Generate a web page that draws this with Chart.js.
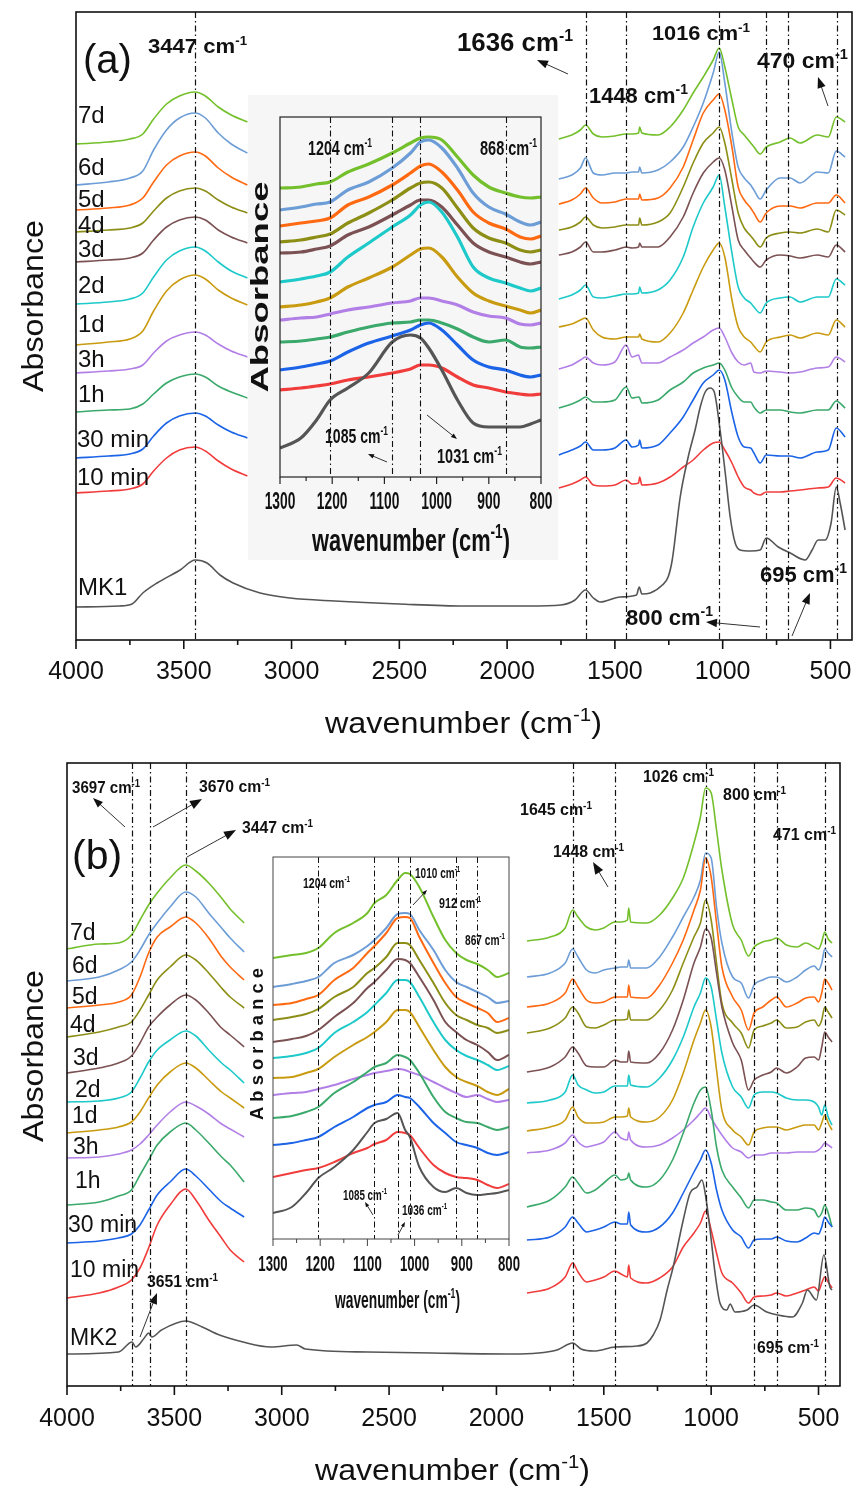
<!DOCTYPE html>
<html>
<head>
<meta charset="utf-8">
<title>FTIR spectra MK1 / MK2</title>
<script src="https://cdn.jsdelivr.net/npm/chart.js@4.4.1/dist/chart.umd.min.js"></script>
<style>
  html, body { margin: 0; padding: 0; background: #fff; }
  body { position: relative; width: 854px; height: 1486px; overflow: hidden; }
  canvas { position: absolute; }
  #mainA { left: 0; top: 0; }
  #mainB { left: 0; top: 745px; }
  #insetA { left: 248px; top: 95px; background: #f6f6f6; }
  #insetB { left: 235px; top: 845px; }
</style>
</head>
<body>
<canvas id="mainA" width="854" height="745"></canvas>
<canvas id="mainB" width="854" height="741"></canvas>
<canvas id="insetA" width="310" height="465"></canvas>
<canvas id="insetB" width="295" height="475"></canvas>
<script>
// curing times, top to bottom
const series = ['7d', '6d', '5d', '4d', '3d', '2d', '1d', '3h', '1h', '30 min', '10 min'];
const colors = ['#74c02c', '#6d9dd6', '#ff6912', '#8d8e16', '#7b5153', '#1dc9c9', '#c99b10', '#b27fe6', '#3aa96b', '#1b63e7', '#f13c3c'];
const mkColor = '#555555';

// ---- (a) main panel, absorbance (offset, a.u.) ----
const wnA_L = [4000, 3850, 3750, 3690, 3640, 3580, 3520, 3447, 3400, 3340, 3280, 3205];
const wnA_R = [1760, 1700, 1660, 1636, 1600, 1560, 1500, 1448, 1420, 1390, 1385, 1375, 1300, 1244, 1183, 1137, 1090, 1044, 1016, 990, 957, 928, 900, 870, 855, 826, 798, 733, 687, 641, 561, 510, 473, 432];
const absA_L = [
  [4.96, 4.98, 5.01, 5.06, 5.21, 5.36, 5.44, 5.48, 5.44, 5.33, 5.25, 5.18],
  [4.55, 4.58, 4.62, 4.69, 4.90, 5.10, 5.22, 5.27, 5.22, 5.07, 4.96, 4.87],
  [4.30, 4.32, 4.35, 4.42, 4.58, 4.75, 4.84, 4.88, 4.84, 4.72, 4.63, 4.55],
  [4.08, 4.10, 4.12, 4.17, 4.29, 4.42, 4.49, 4.52, 4.49, 4.40, 4.33, 4.27],
  [3.78, 3.80, 3.82, 3.87, 4.00, 4.13, 4.20, 4.23, 4.20, 4.10, 4.03, 3.97],
  [3.36, 3.38, 3.41, 3.47, 3.63, 3.80, 3.89, 3.93, 3.89, 3.78, 3.69, 3.62],
  [2.95, 2.98, 3.01, 3.09, 3.29, 3.49, 3.60, 3.65, 3.61, 3.50, 3.42, 3.35],
  [2.67, 2.69, 2.71, 2.75, 2.87, 2.99, 3.05, 3.08, 3.05, 2.96, 2.89, 2.83],
  [2.28, 2.30, 2.31, 2.36, 2.46, 2.57, 2.63, 2.66, 2.63, 2.54, 2.48, 2.42],
  [1.82, 1.84, 1.86, 1.91, 2.04, 2.17, 2.24, 2.27, 2.24, 2.15, 2.08, 2.02],
  [1.47, 1.49, 1.51, 1.56, 1.69, 1.82, 1.90, 1.93, 1.89, 1.79, 1.71, 1.64]
];
const absA_R = [
  [5.01, 5.05, 5.10, 5.15, 5.06, 5.03, 5.04, 5.06, 5.06, 5.07, 5.13, 5.07, 5.05, 5.13, 5.30, 5.47, 5.63, 5.80, 5.92, 5.73, 5.40, 5.13, 5.05, 4.97, 4.93, 4.86, 4.93, 4.98, 5.02, 4.97, 5.05, 5.03, 5.23, 5.18],
  [4.61, 4.65, 4.72, 4.82, 4.67, 4.65, 4.67, 4.67, 4.68, 4.68, 4.73, 4.67, 4.70, 4.78, 4.93, 5.13, 5.37, 5.67, 5.88, 5.57, 5.07, 4.73, 4.62, 4.55, 4.50, 4.41, 4.50, 4.62, 4.62, 4.57, 4.68, 4.67, 4.89, 4.83],
  [4.36, 4.40, 4.46, 4.52, 4.42, 4.37, 4.38, 4.41, 4.41, 4.41, 4.46, 4.40, 4.42, 4.52, 4.73, 5.00, 5.27, 5.40, 5.46, 5.30, 4.93, 4.53, 4.40, 4.32, 4.27, 4.18, 4.27, 4.34, 4.34, 4.32, 4.37, 4.37, 4.45, 4.37],
  [4.10, 4.13, 4.18, 4.23, 4.15, 4.12, 4.13, 4.15, 4.15, 4.15, 4.22, 4.15, 4.18, 4.27, 4.53, 4.77, 4.97, 5.07, 5.13, 4.97, 4.60, 4.27, 4.12, 4.04, 4.00, 3.93, 4.02, 4.07, 4.08, 4.07, 4.11, 4.08, 4.30, 4.25],
  [3.85, 3.88, 3.93, 3.98, 3.88, 3.88, 3.90, 3.93, 3.92, 3.93, 3.97, 3.93, 3.93, 4.03, 4.23, 4.47, 4.67, 4.78, 4.82, 4.70, 4.33, 4.00, 3.90, 3.82, 3.78, 3.73, 3.80, 3.85, 3.84, 3.82, 3.85, 3.83, 3.95, 3.88],
  [3.41, 3.45, 3.50, 3.55, 3.43, 3.42, 3.44, 3.46, 3.46, 3.47, 3.53, 3.47, 3.50, 3.60, 3.83, 4.13, 4.37, 4.53, 4.65, 4.33, 3.87, 3.53, 3.42, 3.37, 3.33, 3.27, 3.37, 3.42, 3.43, 3.38, 3.43, 3.43, 3.61, 3.55],
  [3.13, 3.16, 3.20, 3.22, 3.10, 3.03, 3.01, 3.03, 3.03, 3.03, 3.06, 3.01, 2.98, 3.07, 3.27, 3.50, 3.73, 3.90, 3.97, 3.83, 3.40, 3.13, 3.03, 2.98, 2.94, 2.88, 2.98, 3.03, 3.05, 3.02, 3.07, 3.05, 3.20, 3.13],
  [2.71, 2.75, 2.80, 2.83, 2.77, 2.75, 2.78, 2.95, 2.83, 2.85, 2.82, 2.77, 2.77, 2.83, 2.90, 2.97, 3.03, 3.10, 3.12, 3.03, 2.87, 2.78, 2.75, 2.77, 2.68, 2.67, 2.69, 2.68, 2.67, 2.68, 2.72, 2.73, 2.83, 2.78],
  [2.32, 2.36, 2.40, 2.43, 2.38, 2.38, 2.40, 2.53, 2.42, 2.43, 2.42, 2.37, 2.40, 2.50, 2.58, 2.67, 2.72, 2.75, 2.77, 2.70, 2.52, 2.43, 2.38, 2.38, 2.33, 2.27, 2.30, 2.30, 2.28, 2.27, 2.30, 2.30, 2.39, 2.32],
  [1.85, 1.90, 1.94, 1.98, 1.90, 1.90, 1.92, 2.00, 1.93, 1.95, 2.00, 1.92, 1.95, 2.07, 2.23, 2.40, 2.57, 2.65, 2.70, 2.60, 2.27, 2.03, 1.93, 1.92, 1.87, 1.77, 1.85, 1.84, 1.84, 1.82, 1.88, 1.90, 2.12, 2.03],
  [1.52, 1.56, 1.60, 1.63, 1.55, 1.54, 1.55, 1.60, 1.56, 1.57, 1.63, 1.55, 1.57, 1.63, 1.73, 1.80, 1.90, 1.97, 1.98, 1.90, 1.77, 1.63, 1.53, 1.50, 1.47, 1.45, 1.48, 1.48, 1.49, 1.50, 1.52, 1.53, 1.62, 1.57]
];
const wnMK1 = [4000, 3800, 3740, 3690, 3624, 3517, 3447, 3392, 3332, 3271, 3146, 3007, 2800, 2500, 2200, 1900, 1750, 1685, 1636, 1600, 1568, 1476, 1400, 1387, 1375, 1336, 1280, 1253, 1234, 1197, 1160, 1128, 1104, 1081, 1058, 1039, 1012, 988, 965, 942, 919, 870, 826, 798, 742, 687, 617, 585, 557, 524, 497, 473, 455, 432];
const absMK1 = [0.33, 0.34, 0.36, 0.47, 0.57, 0.70, 0.80, 0.77, 0.65, 0.57, 0.47, 0.42, 0.39, 0.36, 0.34, 0.34, 0.35, 0.40, 0.50, 0.42, 0.38, 0.43, 0.45, 0.53, 0.46, 0.47, 0.55, 0.63, 0.80, 1.43, 1.83, 2.10, 2.33, 2.48, 2.52, 2.48, 2.10, 1.67, 1.23, 0.97, 0.90, 0.89, 0.90, 1.02, 0.93, 0.87, 0.80, 0.90, 1.00, 1.00, 1.17, 1.53, 1.37, 1.10];

// ---- (a) inset 1300-800 ----
const wnIA = [1300, 1260, 1230, 1204, 1170, 1130, 1085, 1050, 1031, 1015, 990, 960, 930, 900, 868, 840, 820, 800];
const absIA = [
  [2.89, 2.90, 2.93, 2.95, 3.05, 3.13, 3.24, 3.34, 3.39, 3.40, 3.37, 3.20, 3.02, 2.90, 2.84, 2.80, 2.79, 2.80],
  [2.67, 2.70, 2.73, 2.75, 2.87, 2.95, 3.09, 3.24, 3.35, 3.37, 3.29, 3.09, 2.84, 2.70, 2.63, 2.55, 2.52, 2.55],
  [2.51, 2.54, 2.56, 2.59, 2.72, 2.80, 2.92, 3.04, 3.11, 3.13, 3.05, 2.87, 2.65, 2.54, 2.48, 2.40, 2.38, 2.41],
  [2.35, 2.37, 2.40, 2.43, 2.54, 2.64, 2.77, 2.89, 2.94, 2.95, 2.89, 2.69, 2.49, 2.39, 2.34, 2.27, 2.25, 2.27],
  [2.24, 2.25, 2.28, 2.31, 2.42, 2.50, 2.62, 2.72, 2.77, 2.77, 2.70, 2.52, 2.34, 2.25, 2.20, 2.15, 2.13, 2.15],
  [1.95, 1.98, 2.01, 2.05, 2.20, 2.34, 2.50, 2.62, 2.72, 2.75, 2.65, 2.40, 2.10, 1.99, 1.94, 1.89, 1.86, 1.89],
  [1.70, 1.72, 1.75, 1.79, 1.90, 1.99, 2.10, 2.22, 2.28, 2.29, 2.20, 2.00, 1.84, 1.76, 1.71, 1.67, 1.64, 1.67],
  [1.57, 1.59, 1.60, 1.63, 1.67, 1.70, 1.74, 1.76, 1.79, 1.79, 1.76, 1.72, 1.65, 1.61, 1.59, 1.53, 1.52, 1.54],
  [1.35, 1.36, 1.38, 1.40, 1.45, 1.50, 1.54, 1.55, 1.57, 1.57, 1.54, 1.48, 1.40, 1.35, 1.37, 1.30, 1.29, 1.30],
  [1.07, 1.10, 1.13, 1.16, 1.25, 1.34, 1.41, 1.47, 1.52, 1.54, 1.47, 1.32, 1.17, 1.10, 1.07, 1.02, 1.00, 1.02],
  [0.87, 0.89, 0.91, 0.93, 0.97, 1.00, 1.04, 1.08, 1.12, 1.12, 1.09, 1.00, 0.92, 0.89, 0.85, 0.83, 0.82, 0.83]
];
const absIA_MK1 = [0.29, 0.39, 0.57, 0.77, 0.89, 1.04, 1.35, 1.42, 1.39, 1.29, 1.07, 0.77, 0.54, 0.50, 0.50, 0.50, 0.53, 0.57];

// ---- (b) main panel ----
const wnB_L = [4000, 3850, 3760, 3700, 3660, 3620, 3580, 3520, 3447, 3400, 3340, 3280, 3240, 3175];
const wnB_R = [1858, 1750, 1680, 1645, 1620, 1580, 1540, 1500, 1448, 1420, 1390, 1384, 1375, 1300, 1240, 1180, 1130, 1080, 1050, 1026, 1000, 975, 950, 900, 860, 826, 800, 760, 720, 695, 650, 600, 560, 520, 500, 485, 471, 455, 437];
const absB_L = [
  [4.37, 4.42, 4.43, 4.51, 4.66, 4.81, 4.93, 5.08, 5.21, 5.15, 5.03, 4.88, 4.77, 4.63],
  [4.05, 4.09, 4.16, 4.24, 4.36, 4.51, 4.63, 4.79, 4.94, 4.89, 4.73, 4.58, 4.48, 4.34],
  [3.78, 3.81, 3.84, 3.91, 4.09, 4.33, 4.49, 4.59, 4.69, 4.63, 4.48, 4.29, 4.19, 4.06],
  [3.49, 3.54, 3.59, 3.64, 3.76, 3.91, 4.06, 4.19, 4.31, 4.26, 4.13, 3.98, 3.89, 3.78],
  [3.13, 3.18, 3.23, 3.30, 3.43, 3.59, 3.69, 3.81, 3.91, 3.86, 3.73, 3.58, 3.51, 3.39],
  [2.84, 2.85, 2.88, 2.94, 3.08, 3.24, 3.36, 3.46, 3.55, 3.50, 3.36, 3.23, 3.16, 3.03],
  [2.53, 2.56, 2.59, 2.64, 2.74, 2.88, 3.01, 3.14, 3.23, 3.18, 3.06, 2.94, 2.88, 2.78],
  [2.28, 2.29, 2.32, 2.36, 2.42, 2.51, 2.61, 2.74, 2.84, 2.80, 2.72, 2.62, 2.57, 2.49],
  [1.81, 1.84, 1.90, 1.96, 2.11, 2.26, 2.41, 2.54, 2.63, 2.56, 2.43, 2.29, 2.21, 2.04],
  [1.43, 1.45, 1.48, 1.52, 1.61, 1.76, 1.91, 2.04, 2.17, 2.10, 1.97, 1.84, 1.78, 1.69],
  [0.88, 0.93, 0.99, 1.06, 1.18, 1.38, 1.61, 1.81, 1.97, 1.86, 1.66, 1.48, 1.36, 1.24]
];
const absB_R = [
  [4.45, 4.49, 4.58, 4.76, 4.69, 4.59, 4.56, 4.58, 4.64, 4.64, 4.66, 4.78, 4.64, 4.63, 4.71, 4.88, 5.08, 5.43, 5.69, 5.98, 5.93, 5.56, 5.16, 4.61, 4.46, 4.30, 4.39, 4.44, 4.46, 4.48, 4.41, 4.39, 4.43, 4.39, 4.37, 4.44, 4.54, 4.47, 4.43],
  [4.09, 4.13, 4.23, 4.37, 4.29, 4.16, 4.13, 4.16, 4.18, 4.19, 4.19, 4.26, 4.18, 4.18, 4.29, 4.49, 4.69, 4.89, 5.06, 5.33, 5.28, 4.79, 4.43, 4.09, 4.03, 3.88, 4.01, 4.06, 4.09, 4.09, 4.04, 4.09, 4.16, 4.20, 4.16, 4.23, 4.37, 4.33, 4.29],
  [3.79, 3.83, 3.93, 4.07, 3.99, 3.86, 3.83, 3.84, 3.89, 3.89, 3.89, 4.01, 3.89, 3.88, 4.01, 4.23, 4.46, 4.76, 4.96, 5.28, 5.09, 4.63, 4.19, 3.89, 3.76, 3.56, 3.73, 3.79, 3.86, 3.89, 3.79, 3.83, 3.88, 3.89, 3.84, 3.93, 4.07, 4.03, 3.96],
  [3.53, 3.58, 3.68, 3.79, 3.73, 3.59, 3.58, 3.61, 3.66, 3.66, 3.67, 3.76, 3.66, 3.66, 3.76, 3.96, 4.23, 4.49, 4.63, 4.86, 4.66, 4.23, 3.83, 3.63, 3.53, 3.38, 3.56, 3.60, 3.63, 3.66, 3.58, 3.59, 3.64, 3.66, 3.60, 3.66, 3.79, 3.74, 3.68],
  [3.14, 3.19, 3.29, 3.39, 3.33, 3.20, 3.19, 3.19, 3.26, 3.24, 3.24, 3.35, 3.24, 3.23, 3.33, 3.56, 3.86, 4.23, 4.39, 4.57, 4.48, 4.13, 3.79, 3.43, 3.26, 2.96, 3.06, 3.11, 3.14, 3.18, 3.13, 3.19, 3.28, 3.29, 3.26, 3.39, 3.54, 3.49, 3.44],
  [2.83, 2.86, 2.94, 3.11, 3.01, 2.96, 2.93, 2.94, 3.00, 3.00, 3.00, 3.11, 3.01, 2.99, 3.08, 3.26, 3.49, 3.79, 3.93, 4.08, 3.99, 3.66, 3.33, 2.99, 2.89, 2.78, 2.91, 2.94, 2.94, 2.93, 2.88, 2.86, 2.86, 2.84, 2.79, 2.71, 2.81, 2.69, 2.61],
  [2.55, 2.59, 2.66, 2.79, 2.69, 2.63, 2.63, 2.64, 2.69, 2.69, 2.70, 2.78, 2.69, 2.64, 2.69, 2.86, 3.13, 3.46, 3.63, 3.76, 3.59, 3.16, 2.76, 2.56, 2.49, 2.41, 2.54, 2.58, 2.59, 2.59, 2.56, 2.59, 2.61, 2.61, 2.56, 2.63, 2.71, 2.63, 2.56],
  [2.33, 2.36, 2.43, 2.51, 2.44, 2.39, 2.41, 2.44, 2.54, 2.48, 2.46, 2.54, 2.46, 2.39, 2.41, 2.48, 2.56, 2.66, 2.73, 2.78, 2.68, 2.59, 2.51, 2.38, 2.34, 2.28, 2.31, 2.31, 2.33, 2.33, 2.33, 2.34, 2.34, 2.34, 2.36, 2.39, 2.43, 2.41, 2.38],
  [1.79, 1.86, 1.99, 2.09, 2.03, 1.93, 1.96, 2.03, 2.11, 2.06, 2.08, 2.13, 2.06, 1.99, 2.06, 2.26, 2.53, 2.83, 2.96, 2.99, 2.76, 2.39, 2.16, 1.99, 1.88, 1.78, 1.86, 1.86, 1.84, 1.83, 1.76, 1.76, 1.78, 1.76, 1.69, 1.73, 1.81, 1.73, 1.59],
  [1.46, 1.49, 1.59, 1.69, 1.63, 1.54, 1.56, 1.59, 1.64, 1.62, 1.62, 1.74, 1.61, 1.54, 1.59, 1.73, 1.93, 2.14, 2.26, 2.36, 2.23, 1.96, 1.76, 1.56, 1.49, 1.38, 1.46, 1.47, 1.47, 1.49, 1.45, 1.44, 1.48, 1.53, 1.52, 1.59, 1.69, 1.64, 1.59],
  [0.93, 0.98, 1.09, 1.23, 1.14, 1.04, 1.06, 1.09, 1.15, 1.12, 1.09, 1.21, 1.08, 1.03, 1.08, 1.19, 1.39, 1.53, 1.63, 1.75, 1.56, 1.33, 1.13, 1.03, 0.93, 0.83, 0.89, 0.90, 0.91, 0.93, 0.90, 0.93, 0.96, 0.99, 0.95, 1.03, 1.09, 1.04, 0.98]
];
const wnMK2 = [4000, 3760, 3697, 3680, 3640, 3620, 3605, 3560, 3447, 3370, 3290, 3180, 3050, 2930, 2890, 2600, 2300, 1925, 1718, 1645, 1606, 1545, 1448, 1345, 1299, 1270, 1238, 1205, 1177, 1130, 1098, 1066, 1043, 1028, 1005, 982, 959, 927, 912, 889, 833, 800, 741, 690, 622, 575, 552, 510, 475, 447, 437];
const absMK2 = [0.32, 0.34, 0.44, 0.39, 0.48, 0.53, 0.49, 0.56, 0.65, 0.59, 0.51, 0.44, 0.39, 0.41, 0.37, 0.34, 0.33, 0.32, 0.36, 0.43, 0.37, 0.35, 0.39, 0.40, 0.43, 0.51, 0.66, 0.96, 1.19, 1.66, 1.93, 1.99, 2.06, 1.93, 1.56, 1.13, 0.83, 0.76, 0.82, 0.74, 0.76, 0.81, 0.74, 0.71, 0.69, 0.83, 0.96, 0.86, 1.31, 0.99, 0.96];

// ---- (b) inset ----
const wnIB = [1300, 1260, 1230, 1204, 1170, 1130, 1100, 1085, 1060, 1036, 1020, 1010, 990, 960, 935, 912, 890, 867, 845, 825, 800];
const absIB = [
  [2.81, 2.84, 2.86, 2.91, 3.06, 3.16, 3.26, 3.36, 3.44, 3.59, 3.66, 3.65, 3.52, 3.22, 2.99, 2.86, 2.79, 2.75, 2.69, 2.62, 2.66],
  [2.52, 2.55, 2.58, 2.62, 2.76, 2.84, 2.93, 2.99, 3.11, 3.25, 3.26, 3.25, 3.09, 2.89, 2.69, 2.57, 2.52, 2.47, 2.42, 2.36, 2.38],
  [2.34, 2.36, 2.40, 2.44, 2.59, 2.71, 2.86, 2.93, 3.06, 3.21, 3.22, 3.21, 3.02, 2.76, 2.56, 2.42, 2.36, 2.31, 2.26, 2.17, 2.21],
  [2.19, 2.22, 2.25, 2.30, 2.42, 2.52, 2.66, 2.71, 2.82, 2.96, 2.96, 2.94, 2.79, 2.56, 2.36, 2.24, 2.19, 2.14, 2.11, 2.06, 2.09],
  [1.97, 2.00, 2.03, 2.09, 2.22, 2.36, 2.51, 2.57, 2.69, 2.80, 2.79, 2.76, 2.62, 2.39, 2.17, 2.07, 1.99, 1.94, 1.87, 1.79, 1.84],
  [1.81, 1.83, 1.86, 1.91, 2.06, 2.17, 2.27, 2.34, 2.46, 2.59, 2.59, 2.57, 2.42, 2.17, 1.99, 1.89, 1.83, 1.79, 1.74, 1.69, 1.73],
  [1.61, 1.62, 1.66, 1.70, 1.82, 1.94, 2.02, 2.07, 2.17, 2.29, 2.29, 2.27, 2.12, 1.89, 1.72, 1.62, 1.57, 1.53, 1.47, 1.44, 1.50],
  [1.44, 1.46, 1.47, 1.50, 1.54, 1.60, 1.64, 1.66, 1.68, 1.70, 1.69, 1.67, 1.64, 1.57, 1.51, 1.46, 1.42, 1.44, 1.40, 1.37, 1.39],
  [1.21, 1.23, 1.27, 1.32, 1.46, 1.57, 1.67, 1.72, 1.76, 1.84, 1.82, 1.79, 1.66, 1.42, 1.27, 1.21, 1.17, 1.16, 1.12, 1.09, 1.12],
  [0.94, 0.96, 0.99, 1.02, 1.12, 1.22, 1.31, 1.34, 1.37, 1.44, 1.42, 1.41, 1.32, 1.16, 1.06, 0.97, 0.94, 0.91, 0.86, 0.84, 0.87],
  [0.62, 0.66, 0.69, 0.71, 0.77, 0.86, 0.91, 0.95, 0.99, 1.07, 1.06, 1.04, 0.91, 0.74, 0.66, 0.62, 0.61, 0.59, 0.54, 0.51, 0.55]
];
const absIB_MK2 = [0.26, 0.32, 0.46, 0.61, 0.72, 0.89, 1.07, 1.16, 1.20, 1.26, 1.09, 1.02, 0.72, 0.52, 0.47, 0.51, 0.46, 0.44, 0.45, 0.46, 0.49];

// band positions marked with dash-dot lines
const bandsA = [3447, 1636, 1448, 1016, 800, 695, 470];
const bandsIA = [1204, 1085, 1031, 868];
const bandsB = [3697, 3615, 3447, 1645, 1448, 1026, 800, 695, 471];
const bandsIB = [1204, 1085, 1036, 1010, 912, 867];

const FONT = "'Liberation Sans', Arial, Helvetica, sans-serif";

function pts(xs, ys) {
  return xs.map((x, i) => ({ x: x, y: ys[i] }));
}
// left and right parts of a spectrum, with a break between them
function split(xl, yl, xr, yr) {
  const gap = { x: (xl[xl.length - 1] + xr[0]) / 2, y: null };
  return pts(xl, yl).concat([gap], pts(xr, yr));
}
function line(label, data, color, width) {
  return {
    label: label, data: data, borderColor: color, borderWidth: width,
    pointRadius: 0, fill: false, cubicInterpolationMode: 'monotone', spanGaps: false
  };
}

function note(ctx, n, ox, oy) {
  const size = n.size;
  const wt = n.bold ? 'bold ' : '';
  const fBase = wt + size + 'px ' + FONT;
  const fSup = wt + Math.round(size * 0.62) + 'px ' + FONT;
  ctx.font = fBase;
  const w1 = ctx.measureText(n.t).width;
  let w2 = 0, w3 = 0;
  if (n.s) { ctx.font = fSup; w2 = ctx.measureText(n.s).width; }
  if (n.tail) { ctx.font = fBase; w3 = ctx.measureText(n.tail).width; }
  const total = w1 + w2 + w3;
  const k = n.w ? n.w / total : 1;
  ctx.save();
  ctx.translate(n.x - ox, n.y - oy);
  if (n.rot) ctx.rotate(-Math.PI / 2);
  ctx.scale(k, 1);
  const x0 = n.rot ? -total / 2 : 0;
  ctx.fillStyle = '#111';
  ctx.textAlign = 'left';
  ctx.textBaseline = 'alphabetic';
  ctx.font = fBase;
  ctx.fillText(n.t, x0, 0);
  if (n.s) { ctx.font = fSup; ctx.fillText(n.s, x0 + w1, -size * 0.4); }
  if (n.tail) { ctx.font = fBase; ctx.fillText(n.tail, x0 + w1 + w2, 0); }
  ctx.restore();
}

function arrow(ctx, a, ox, oy) {
  const [x1, y1, x2, y2, head] = [a[0] - ox, a[1] - oy, a[2] - ox, a[3] - oy, a[4]];
  const ang = Math.atan2(y2 - y1, x2 - x1);
  const c = Math.cos(ang), s = Math.sin(ang);
  ctx.beginPath();
  ctx.moveTo(x1, y1);
  ctx.lineTo(x2 - c * head * 0.8, y2 - s * head * 0.8);
  ctx.stroke();
  ctx.beginPath();
  ctx.moveTo(x2, y2);
  ctx.lineTo(x2 - head * c + head * 0.38 * s, y2 - head * s - head * 0.38 * c);
  ctx.lineTo(x2 - head * c - head * 0.38 * s, y2 - head * s + head * 0.38 * c);
  ctx.closePath();
  ctx.fill();
}

// frame, outward ticks, band lines and labels
function decoration(cfg) {
  return {
    id: 'deco',
    afterDatasetsDraw(chart) {
      const ctx = chart.ctx, a = chart.chartArea, sx = chart.scales.x;
      ctx.save();
      ctx.strokeStyle = '#111';
      ctx.lineWidth = cfg.vlineW;
      ctx.setLineDash(cfg.dash);
      cfg.vlines.forEach(w => {
        const p = Math.round(sx.getPixelForValue(w)) + 0.5;
        ctx.beginPath(); ctx.moveTo(p, a.top); ctx.lineTo(p, a.bottom); ctx.stroke();
      });
      ctx.setLineDash([]);
      ctx.strokeStyle = cfg.frameColor;
      ctx.lineWidth = cfg.frameW;
      ctx.strokeRect(a.left, a.top, a.right - a.left, a.bottom - a.top);
      sx.ticks.forEach(t => {
        const p = sx.getPixelForValue(t.value);
        const major = t.value % cfg.major === 0;
        ctx.beginPath(); ctx.moveTo(p, a.bottom); ctx.lineTo(p, a.bottom + (major ? cfg.tickLen[0] : cfg.tickLen[1])); ctx.stroke();
        // condensed tick labels for the insets
        if (cfg.ownLabels && major) {
          const L = cfg.ownLabels;
          ctx.save();
          ctx.translate(p, a.bottom + L.dy);
          ctx.scale(L.k, 1);
          ctx.font = 'bold ' + L.size + 'px ' + FONT;
          ctx.fillStyle = '#111';
          ctx.textAlign = 'center';
          ctx.textBaseline = 'middle';
          ctx.fillText(String(t.value), 0, 0);
          ctx.restore();
        }
      });
      ctx.strokeStyle = '#333';
      ctx.fillStyle = '#111';
      ctx.lineWidth = 1;
      cfg.arrows.forEach(ar => arrow(ctx, ar, cfg.ox, cfg.oy));
      cfg.notes.forEach(n => note(ctx, n, cfg.ox, cfg.oy));
      ctx.restore();
    }
  };
}

function spectraChart(id, datasets, cfg) {
  return new Chart(document.getElementById(id), {
    type: 'line',
    data: { datasets: datasets },
    options: {
      responsive: false,
      animation: false,
      events: [],
      layout: { padding: cfg.pad },
      plugins: { legend: { display: false }, tooltip: { enabled: false } },
      scales: {
        x: {
          type: 'linear', reverse: true, min: cfg.xmin, max: cfg.xmax,
          grid: { display: false, drawTicks: false },
          border: { display: false },
          ticks: {
            display: !cfg.ownLabels,
            stepSize: cfg.step, autoSkip: false, maxRotation: 0, includeBounds: false,
            padding: cfg.tickPad, color: '#111', font: cfg.tickFont,
            callback: v => (v % cfg.major === 0 ? String(v) : '')
          },
          afterFit: s => { s.height = cfg.axisH; s.paddingLeft = 0; s.paddingRight = 0; }
        },
        y: { display: false, min: 0, max: cfg.ymax }
      }
    },
    plugins: [decoration(cfg)]
  });
}

function mainSets(wnL, wnR, L, R, wnMK, mk, mkName) {
  const sets = [line(mkName, pts(wnMK, mk), mkColor, 1.6)];
  for (let i = series.length - 1; i >= 0; i--) {
    sets.push(line(series[i], split(wnL, L[i], wnR, R[i]), colors[i], 1.6));
  }
  return sets;
}
function insetSets(wn, rows, mk, mkName, width) {
  const sets = [line(mkName, pts(wn, mk), mkColor, width)];
  for (let i = series.length - 1; i >= 0; i--) {
    sets.push(line(series[i], pts(wn, rows[i]), colors[i], width));
  }
  return sets;
}

function seriesLabels(pos, mkName, mkPos, size) {
  const out = series.map((s, i) => ({ t: s, x: pos[i][0], y: pos[i][1], size: size }));
  out.push({ t: mkName, x: mkPos[0], y: mkPos[1], size: size });
  return out;
}

const labelPosA = [[78, 123], [78, 175], [78, 207], [78, 233], [78, 257], [78, 293], [78, 332], [78, 367], [78, 402], [77, 447], [77, 485]];
const labelPosB = [[70, 940], [72, 973], [72, 1004], [70, 1032], [73, 1065], [75, 1097], [72, 1123], [73, 1154], [75, 1188], [68, 1232], [70, 1277]];

// (a)
spectraChart('mainA', mainSets(wnA_L, wnA_R, absA_L, absA_R, wnMK1, absMK1, 'MK1'), {
  xmin: 400, xmax: 4000, ymax: 6.28, step: 250, major: 500,
  pad: { left: 76, right: 2, top: 12, bottom: 65 }, axisH: 40, tickPad: 17,
  tickFont: { family: FONT, size: 25 }, tickLen: [9, 5],
  frameW: 1.6, frameColor: '#111', vlineW: 1.2, dash: [6, 3, 1.5, 3],
  vlines: bandsA, ox: 0, oy: 0,
  arrows: [[568, 74, 537, 60, 11], [828, 106, 818, 77, 11], [792, 636, 810, 593, 11], [760, 627, 706, 622, 11]],
  notes: [
    { t: '(a)', x: 83, y: 73, size: 40 },
    { t: '3447 cm', s: '-1', x: 148, y: 53, size: 20, bold: 1, w: 99 },
    { t: '1636 cm', s: '-1', x: 457, y: 51, size: 26, bold: 1, w: 116 },
    { t: '1448 cm', s: '-1', x: 589, y: 103, size: 22, bold: 1, w: 99 },
    { t: '1016 cm', s: '-1', x: 652, y: 40, size: 21, bold: 1, w: 98 },
    { t: '470 cm', s: '-1', x: 757, y: 68, size: 22, bold: 1, w: 91 },
    { t: '695 cm', s: '-1', x: 760, y: 582, size: 22, bold: 1, w: 87 },
    { t: '800 cm', s: '-1', x: 626, y: 625, size: 22, bold: 1, w: 87 },
    { t: 'wavenumber (cm', s: '-1', tail: ')', x: 325, y: 733, size: 30, w: 277 },
    { t: 'Absorbance', x: 43, y: 306, size: 30, w: 172, rot: 1 }
  ].concat(seriesLabels(labelPosA, 'MK1', [78, 595], 24))
});

spectraChart('insetA', insetSets(wnIA, absIA, absIA_MK1, 'MK1', 3.2), {
  xmin: 800, xmax: 1300, ymax: 3.60, step: 50, major: 100,
  pad: { left: 32, right: 17, top: 22, bottom: 53 }, axisH: 30, tickPad: 10,
  tickFont: { family: FONT, size: 15, weight: 'bold' }, tickLen: [7, 4],
  ownLabels: { size: 23, k: 0.6, dy: 26 },
  frameW: 1.2, frameColor: '#222', vlineW: 1.1, dash: [6, 3, 1.5, 3],
  vlines: bandsIA, ox: 248, oy: 95,
  arrows: [[387, 462, 368, 454, 6], [427, 415, 457, 439, 6]],
  notes: [
    { t: '1204 cm', s: '-1', x: 308, y: 155, size: 20, bold: 1, w: 64 },
    { t: '868 cm', s: '-1', x: 480, y: 155, size: 20, bold: 1, w: 57 },
    { t: '1085 cm', s: '-1', x: 325, y: 443, size: 20, bold: 1, w: 63 },
    { t: '1031 cm', s: '-1', x: 437, y: 463, size: 20, bold: 1, w: 65 },
    { t: 'wavenumber (cm', s: '-1', tail: ')', x: 312, y: 551, size: 32, bold: 1, w: 198 },
    { t: 'Absorbance', x: 268, y: 287, size: 24, bold: 1, w: 211, rot: 1 }
  ]
});

// (b)
spectraChart('mainB', mainSets(wnB_L, wnB_R, absB_L, absB_R, wnMK2, absMK2, 'MK2'), {
  xmin: 400, xmax: 4000, ymax: 6.23, step: 250, major: 500,
  pad: { left: 67, right: 14, top: 18, bottom: 60 }, axisH: 40, tickPad: 18,
  tickFont: { family: FONT, size: 25 }, tickLen: [9, 5],
  frameW: 1.6, frameColor: '#111', vlineW: 1.2, dash: [6, 3, 1.5, 3],
  vlines: bandsB, ox: 0, oy: 745,
  arrows: [[125, 827, 93, 798, 10], [153, 827, 202, 799, 12], [187, 857, 236, 830, 12], [608, 887, 593, 862, 12], [140, 1337, 157, 1293, 11]],
  notes: [
    { t: '(b)', x: 72, y: 869, size: 41 },
    { t: '3697 cm', s: '-1', x: 72, y: 793, size: 16, bold: 1, w: 68 },
    { t: '3670 cm', s: '-1', x: 199, y: 792, size: 16, bold: 1, w: 71 },
    { t: '3447 cm', s: '-1', x: 242, y: 833, size: 16, bold: 1, w: 71 },
    { t: '1645 cm', s: '-1', x: 520, y: 815, size: 16, bold: 1, w: 72 },
    { t: '1448 cm', s: '-1', x: 553, y: 857, size: 16, bold: 1, w: 71 },
    { t: '1026 cm', s: '-1', x: 643, y: 782, size: 16, bold: 1, w: 71 },
    { t: '800 cm', s: '-1', x: 723, y: 800, size: 16, bold: 1, w: 63 },
    { t: '471 cm', s: '-1', x: 773, y: 840, size: 16, bold: 1, w: 63 },
    { t: '695 cm', s: '-1', x: 757, y: 1353, size: 16, bold: 1, w: 62 },
    { t: '3651 cm', s: '-1', x: 147, y: 1287, size: 16, bold: 1, w: 71 },
    { t: 'wavenumber (cm', s: '-1', tail: ')', x: 315, y: 1480, size: 30, w: 275 },
    { t: 'Absorbance', x: 43, y: 1056, size: 30, w: 172, rot: 1 }
  ].concat(seriesLabels(labelPosB, 'MK2', [70, 1345], 23))
});

spectraChart('insetB', insetSets(wnIB, absIB, absIB_MK2, 'MK2', 2), {
  xmin: 800, xmax: 1300, ymax: 3.82, step: 50, major: 100,
  pad: { left: 38, right: 21, top: 12, bottom: 51 }, axisH: 30, tickPad: 10,
  tickFont: { family: FONT, size: 15, weight: 'bold' }, tickLen: [7, 4],
  ownLabels: { size: 22, k: 0.6, dy: 26 },
  frameW: 1, frameColor: '#444', vlineW: 1, dash: [6, 3, 1.5, 3],
  vlines: bandsIB, ox: 235, oy: 845,
  arrows: [[413, 905, 427, 890, 5], [373, 1215, 365, 1202, 5], [398, 1235, 405, 1222, 5]],
  notes: [
    { t: '1204 cm', s: '-1', x: 303, y: 888, size: 15, bold: 1, w: 47 },
    { t: '1010 cm', s: '-1', x: 415, y: 878, size: 15, bold: 1, w: 45 },
    { t: '912 cm', s: '-1', x: 439, y: 908, size: 15, bold: 1, w: 42 },
    { t: '867 cm', s: '-1', x: 465, y: 945, size: 15, bold: 1, w: 40 },
    { t: '1085 cm', s: '-1', x: 343, y: 1200, size: 15, bold: 1, w: 44 },
    { t: '1036 cm', s: '-1', x: 402, y: 1215, size: 15, bold: 1, w: 45 },
    { t: 'wavenumber (cm', s: '-1', tail: ')', x: 335, y: 1308, size: 24, bold: 1, w: 125 },
    { t: 'A b s o r b a n c e', x: 263, y: 1044, size: 18, bold: 1, w: 152, rot: 1 }
  ]
});
</script>
</body>
</html>
